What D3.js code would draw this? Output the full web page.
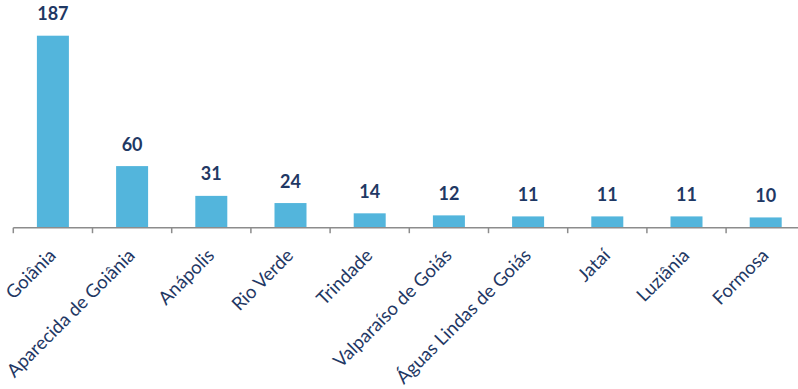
<!DOCTYPE html>
<html>
<head>
<meta charset="utf-8">
<script src="https://cdn.jsdelivr.net/npm/d3@7/dist/d3.min.js"></script>
<style>
  html, body { margin: 0; padding: 0; background: #fff; }
  svg { display: block; }
</style>
</head>
<body>
<svg id="chart" width="798" height="389"></svg>
<script>
// Municipalities and their counts
const categories = ["Goiânia", "Aparecida de Goiânia", "Anápolis", "Rio Verde", "Trindade",
  "Valparaíso de Goiás", "Águas Lindas de Goiás", "Jataí", "Luziânia", "Formosa"];
const values = [187, 60, 31, 24, 14, 12, 11, 11, 11, 10];

const W = 798, H = 389;
const axisY = 227.7;
const x0 = 13.3, step = 79.2;

const svg = d3.select("#chart");

const x = d3.scaleBand()
  .domain(categories)
  .range([x0, x0 + step * categories.length])
  .paddingInner(0.596)
  .paddingOuter(0.298);

const y = d3.scaleLinear()
  .domain([0, 187])
  .range([axisY, 35.7]);

const barColor = "#53B5DC";
const textColor = "#1F3864";

// bars
svg.append("g").selectAll("rect")
  .data(categories)
  .join("rect")
  .attr("x", d => x(d))
  .attr("y", (d, i) => y(values[i]))
  .attr("width", x.bandwidth())
  .attr("height", (d, i) => axisY - y(values[i]))
  .attr("fill", barColor);

// value labels
svg.append("g").selectAll("text")
  .data(categories)
  .join("text")
  .attr("x", d => x(d) + x.bandwidth() / 2)
  .attr("y", (d, i) => y(values[i]) - 15.5)
  .attr("text-anchor", "middle")
  .attr("font-family", "Lato, 'Liberation Sans', sans-serif")
  .attr("font-weight", "bold")
  .attr("font-size", 18)
  .attr("fill", textColor)
  .text((d, i) => values[i]);

// category axis: baseline with tick marks between categories
const axis = svg.append("g");
axis.append("line")
  .attr("x1", x0).attr("x2", W)
  .attr("y1", axisY).attr("y2", axisY)
  .attr("stroke", "#8C8C8C")
  .attr("stroke-width", 1.5);

const tickPos = d3.range(categories.length + 1).map(k => x0 + k * x.step());
axis.selectAll("line.tick")
  .data(tickPos)
  .join("line")
  .attr("class", "tick")
  .attr("x1", d => d).attr("x2", d => d)
  .attr("y1", axisY).attr("y2", axisY + 5.5)
  .attr("stroke", "#8C8C8C")
  .attr("stroke-width", 1.5);

// rotated category labels
axis.selectAll("text")
  .data(categories)
  .join("text")
  .attr("transform", d => `translate(${x(d) + x.bandwidth() / 2 + 4},${axisY + 29}) rotate(-45)`)
  .attr("text-anchor", "end")
  .attr("font-family", "Lato, 'Liberation Sans', sans-serif")
  .attr("font-size", 18.5)
  .attr("fill", textColor)
  .text(d => d);
</script>
</body>
</html>
